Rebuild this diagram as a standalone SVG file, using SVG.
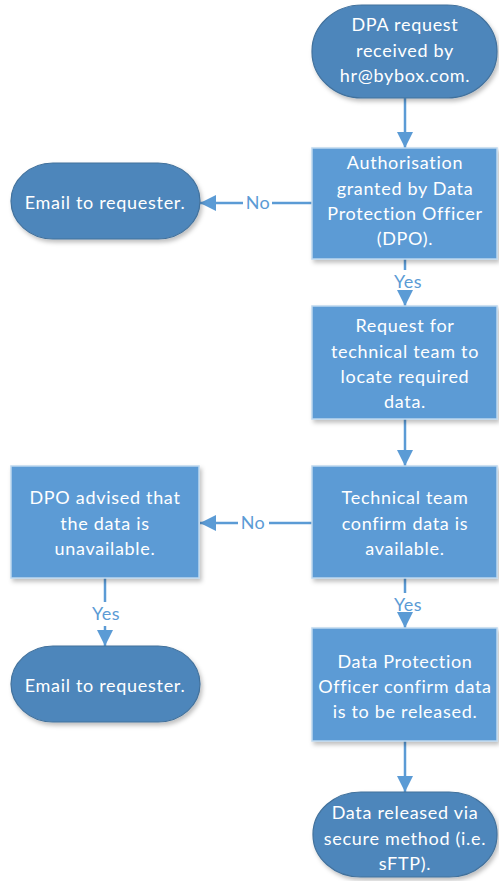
<svg xmlns="http://www.w3.org/2000/svg" width="499" height="881" viewBox="0 0 499 881">
  <defs>
    <filter id="shadow" x="-10%" y="-10%" width="125%" height="130%">
      <feDropShadow dx="2" dy="3" stdDeviation="2" flood-color="#000" flood-opacity="0.25"/>
    </filter>
    <marker id="arrow" viewBox="0 0 16 16" refX="16" refY="8" markerWidth="16" markerHeight="16" markerUnits="userSpaceOnUse" orient="auto">
      <path d="M0,0 L16,8 L0,16 Z" fill="#5B9BD5"/>
    </marker>
  </defs>
  <style>
    .proc { fill: #5B9BD5; stroke: #BDD7EE; stroke-width: 1.5; filter: url(#shadow); }
    .term { fill: #4E86BB; stroke: #41719C; stroke-width: 1.2; filter: url(#shadow); }
    .txt { font-family: Lato, "Liberation Sans", sans-serif; font-size: 18px; letter-spacing: 0.7px; fill: #FFFFFF; text-anchor: middle; }
    .lbl { font-family: Lato, "Liberation Sans", sans-serif; font-size: 18px; letter-spacing: 0.5px; fill: #5B9BD5; text-anchor: middle; }
    .conn { stroke: #5B9BD5; stroke-width: 2.5; fill: none; }
  </style>

  <!-- connectors -->
  <g id="connectors">
    <path class="conn" d="M405,98 V148" marker-end="url(#arrow)"/>
    <path class="conn" d="M312,203 H272"/>
    <path class="conn" d="M243,203 H200" marker-end="url(#arrow)"/>
    <path class="conn" d="M405,259 V270"/>
    <path class="conn" d="M405,294 V306" marker-end="url(#arrow)"/>
    <path class="conn" d="M405,419 V466" marker-end="url(#arrow)"/>
    <path class="conn" d="M312,523 H269"/>
    <path class="conn" d="M238,523 H200" marker-end="url(#arrow)"/>
    <path class="conn" d="M405,578 V593"/>
    <path class="conn" d="M405,617 V628" marker-end="url(#arrow)"/>
    <path class="conn" d="M105,578 V602"/>
    <path class="conn" d="M105,626 V646" marker-end="url(#arrow)"/>
    <path class="conn" d="M405,741 V792" marker-end="url(#arrow)"/>
    <text class="lbl" x="258" y="209">No</text>
    <text class="lbl" x="408" y="288">Yes</text>
    <text class="lbl" x="253" y="529">No</text>
    <text class="lbl" x="408" y="611">Yes</text>
    <text class="lbl" x="106" y="620">Yes</text>
  </g>

  <g id="start">
    <rect class="term" x="312" y="5" width="185" height="93" rx="50" ry="46"/>
    <text class="txt" x="405" y="31">DPA request</text>
    <text class="txt" x="405" y="57">received by</text>
    <text class="txt" x="405" y="82">hr@bybox.com.</text>
  </g>

  <g id="authorisation">
    <rect class="proc" x="312" y="148" width="185" height="111"/>
    <text class="txt" x="405" y="169">Authorisation</text>
    <text class="txt" x="405" y="195">granted by Data</text>
    <text class="txt" x="405" y="220">Protection Officer</text>
    <text class="txt" x="405" y="245">(DPO).</text>
  </g>

  <g id="email-1">
    <rect class="term" x="11" y="163" width="189" height="76" rx="42" ry="38"/>
    <text class="txt" x="105" y="209">Email to requester.</text>
  </g>

  <g id="locate-request">
    <rect class="proc" x="312" y="306" width="185" height="113"/>
    <text class="txt" x="405" y="332">Request for</text>
    <text class="txt" x="405" y="358">technical team to</text>
    <text class="txt" x="405" y="383">locate required</text>
    <text class="txt" x="405" y="408">data.</text>
  </g>

  <g id="confirm-available">
    <rect class="proc" x="312" y="466" width="185" height="112"/>
    <text class="txt" x="405" y="504">Technical team</text>
    <text class="txt" x="405" y="530">confirm data is</text>
    <text class="txt" x="405" y="555">available.</text>
  </g>

  <g id="unavailable">
    <rect class="proc" x="11" y="466" width="188" height="112"/>
    <text class="txt" x="105" y="504">DPO advised that</text>
    <text class="txt" x="105" y="530">the data is</text>
    <text class="txt" x="105" y="555">unavailable.</text>
  </g>

  <g id="email-2">
    <rect class="term" x="11" y="646" width="189" height="76" rx="42" ry="38"/>
    <text class="txt" x="105" y="692">Email to requester.</text>
  </g>

  <g id="confirm-release">
    <rect class="proc" x="312" y="628" width="185" height="113"/>
    <text class="txt" x="405" y="668">Data Protection</text>
    <text class="txt" x="405" y="693">Officer confirm data</text>
    <text class="txt" x="405" y="718">is to be released.</text>
  </g>

  <g id="released">
    <rect class="term" x="313" y="792" width="184" height="85" rx="48" ry="42"/>
    <text class="txt" x="405" y="819">Data released via</text>
    <text class="txt" x="405" y="845">secure method (i.e.</text>
    <text class="txt" x="405" y="870">sFTP).</text>
  </g>
</svg>
